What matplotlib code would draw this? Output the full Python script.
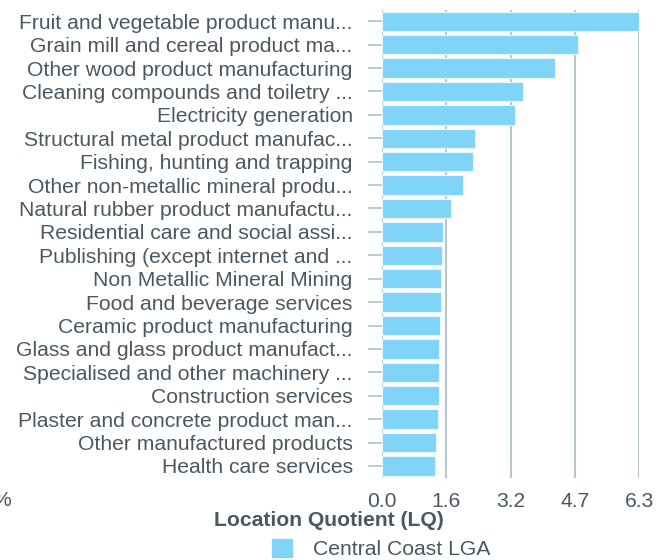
import matplotlib
matplotlib.use('Agg')
import matplotlib.pyplot as plt
from matplotlib.patches import Patch

# industries, top to bottom
industries = [
    'Fruit and vegetable product manu...',
    'Grain mill and cereal product ma...',
    'Other wood product manufacturing',
    'Cleaning compounds and toiletry ...',
    'Electricity generation',
    'Structural metal product manufac...',
    'Fishing, hunting and trapping',
    'Other non-metallic mineral produ...',
    'Natural rubber product manufactu...',
    'Residential care and social assi...',
    'Publishing (except internet and ...',
    'Non Metallic Mineral Mining',
    'Food and beverage services',
    'Ceramic product manufacturing',
    'Glass and glass product manufact...',
    'Specialised and other machinery ...',
    'Construction services',
    'Plaster and concrete product man...',
    'Other manufactured products',
    'Health care services',
]
lq = [6.30, 4.79, 4.23, 3.46, 3.25, 2.27, 2.22, 1.99, 1.70, 1.49,
      1.48, 1.45, 1.44, 1.43, 1.41, 1.40, 1.39, 1.37, 1.33, 1.31]

xticks = [0, 1.575, 3.15, 4.725, 6.3]
xtick_labels = ['0.0', '1.6', '3.2', '4.7', '6.3']
series_name = 'Central Coast LGA'

bar_color = '#7fd4f7'
grid_color = '#b4c7cf'
text_color = '#4a5864'
fs = 15.2

plt.rcParams['font.family'] = ['Liberation Sans', 'DejaVu Sans']

fig = plt.figure(figsize=(6.7, 5.6), dpi=100)
ax = fig.add_axes([0.570, 0.147, 0.384, 0.836])

ypos = list(range(len(industries)))
ax.barh(ypos, lq, height=0.83, color=bar_color, edgecolor='#e6f6fd',
        linewidth=0.8, zorder=3)

ax.set_ylim(len(industries) - 0.5, -0.5)
ax.set_xlim(0, 6.3)
ax.set_yticks(ypos)
ax.set_yticklabels(industries, fontsize=fs, color=text_color)
ax.set_xticks(xticks)
ax.set_xticklabels(xtick_labels, fontsize=fs, color=text_color)

ax.tick_params(axis='y', length=10, width=1.3, color=grid_color, pad=11)
ax.tick_params(axis='x', length=0, pad=10)
ax.grid(axis='x', color=grid_color, linewidth=1.5, zorder=0)
for s in ax.spines.values():
    s.set_visible(False)

ax.set_xlabel('Location Quotient (LQ)', fontsize=fs, fontweight='bold',
              color=text_color)
ax.xaxis.set_label_coords(-0.206, -0.071)

fig.legend(handles=[Patch(color=bar_color, label=series_name)],
           loc='center', bbox_to_anchor=(0.569, 0.02), frameon=False,
           fontsize=fs, labelcolor=text_color, handlelength=0.95,
           handleheight=0.95, handletextpad=1.0, borderpad=0)

# clipped label at the far left edge
fig.text(-0.012, 0.107, '%', fontsize=fs, color=text_color, va='center')

fig.savefig('out.png', dpi=100)
